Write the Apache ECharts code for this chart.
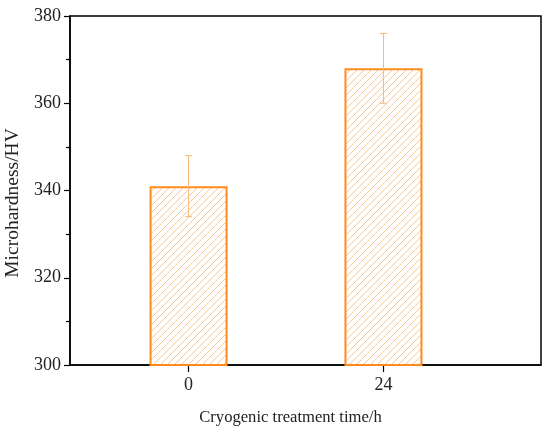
<!DOCTYPE html>
<html>
<head>
<meta charset="utf-8">
<script src="https://cdn.jsdelivr.net/npm/echarts@6/dist/echarts.min.js"></script>
<style>
 html, body { margin: 0; padding: 0; background: #fff; }
 #main { width: 550px; height: 432px; }
</style>
</head>
<body>
<div id="main"></div>
<script>
 // data
 var times = [0, 24];
 var hardness = [341, 368];
 var errLow = [334, 360];
 var errHigh = [348, 376];

 // hatch fill
 var hatch = document.createElement('canvas');
 hatch.width = 7;
 hatch.height = 7;
 var ctx = hatch.getContext('2d');
 ctx.strokeStyle = '#fbc796';
 ctx.lineWidth = 1;
 ctx.beginPath();
 ctx.moveTo(-1, 8); ctx.lineTo(8, -1);
 ctx.moveTo(-1, 1); ctx.lineTo(1, -1);
 ctx.moveTo(6, 8); ctx.lineTo(8, 6);
 ctx.stroke();

 var myChart = echarts.init(document.getElementById('main'));
 var font = 'Liberation Serif';

 var barData = times.map(function (t, i) { return [t, hardness[i]]; });
 var errData = times.map(function (t, i) { return [t, errLow[i], errHigh[i]]; });

 var option = {
     animation: false,
     grid: {
         left: 70,
         right: 9,
         top: 16,
         bottom: 67,
         outerBoundsMode: 'none',
         containLabel: false,
         show: true,
         borderColor: '#000',
         borderWidth: 1.5
     },
     xAxis: {
         type: 'value',
         min: -14.6,
         max: 43.4,
         name: 'Cryogenic treatment time/h',
         nameLocation: 'middle',
         nameGap: 44,
         nameTextStyle: { fontFamily: font, fontSize: 16.6, color: '#222', padding: [0, 30, 0, 0] },
         axisLine: { onZero: false, lineStyle: { color: '#000', width: 1.5 } },
         axisTick: { show: true, inside: false, length: 7, customValues: times, lineStyle: { color: '#000', width: 1.2 } },
         axisLabel: { customValues: times, margin: 11, fontFamily: font, fontSize: 18, color: '#222' },
         splitLine: { show: false }
     },
     yAxis: {
         type: 'value',
         min: 300,
         max: 380,
         interval: 20,
         name: 'Microhardness/HV',
         nameLocation: 'middle',
         nameGap: 39,
         nameTextStyle: { fontFamily: font, fontSize: 19.5, color: '#222', padding: [0, 25, 0, 0] },
         axisLine: { show: true, onZero: false, lineStyle: { color: '#000', width: 1.5 } },
         axisTick: { show: true, inside: false, length: 6, lineStyle: { color: '#000', width: 1.2 } },
         minorTick: { show: true, splitNumber: 2, length: 4, lineStyle: { color: '#000', width: 1.2 } },
         axisLabel: { margin: 9, fontFamily: font, fontSize: 18, color: '#222' },
         splitLine: { show: false }
     },
     series: [{
         type: 'bar',
         data: barData,
         barWidth: 78,
         itemStyle: {
             color: { image: hatch, repeat: 'repeat' },
             borderColor: '#ff8c1a',
             borderWidth: 2
         }
     }, {
         type: 'custom',
         data: errData,
         z: 3,
         renderItem: function (params, api) {
             var x = api.value(0);
             var lo = api.coord([x, api.value(1)]);
             var hi = api.coord([x, api.value(2)]);
             var cap = 3.5;
             var style = { stroke: '#f9b878', lineWidth: 1 };
             return {
                 type: 'group',
                 children: [
                     { type: 'line', shape: { x1: lo[0], y1: lo[1], x2: hi[0], y2: hi[1] }, style: style },
                     { type: 'line', shape: { x1: lo[0] - cap, y1: lo[1], x2: lo[0] + cap, y2: lo[1] }, style: style },
                     { type: 'line', shape: { x1: hi[0] - cap, y1: hi[1], x2: hi[0] + cap, y2: hi[1] }, style: style }
                 ]
             };
         }
     }]
 };

 myChart.setOption(option);
</script>
</body>
</html>
